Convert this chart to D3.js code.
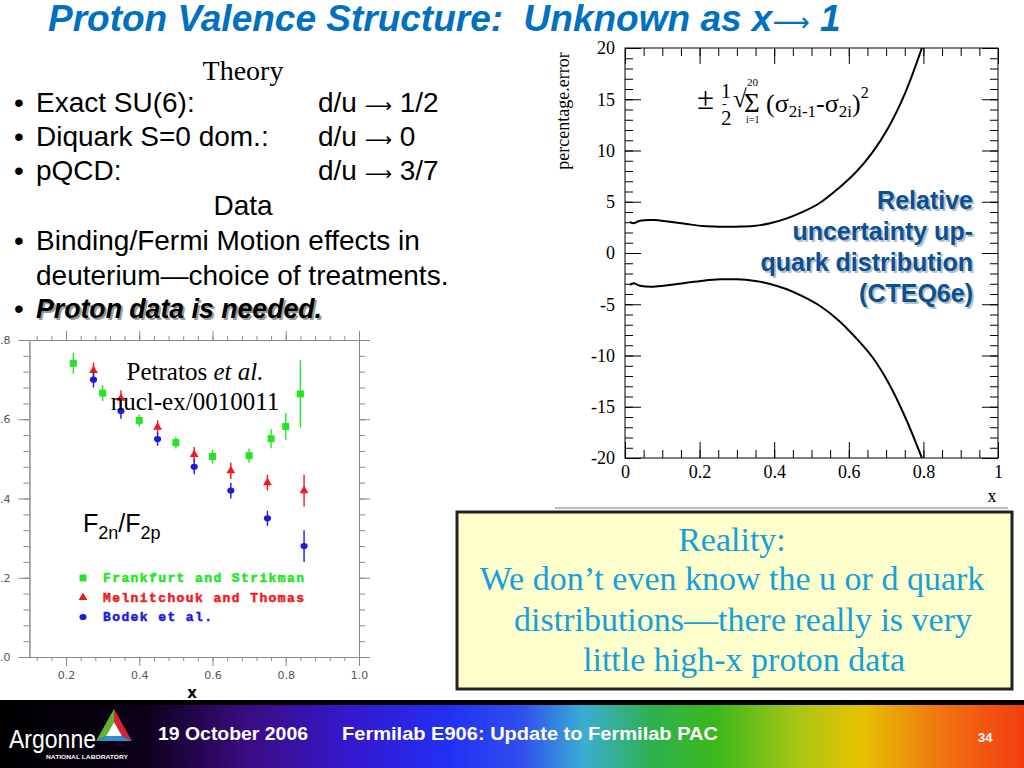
<!DOCTYPE html>
<html>
<head>
<meta charset="utf-8">
<script src="https://cdn.jsdelivr.net/npm/d3@7"></script>
<style>
  body { margin: 0; background: #fff; }
  svg { display: block; }
</style>
</head>
<body>
<div id="slide"></div>
<script>
// F2n/F2p points
var fsX = [0.22, 0.30, 0.40, 0.50, 0.60, 0.70, 0.76, 0.80, 0.84];
var fsY = [0.741, 0.666, 0.597, 0.541, 0.506, 0.508, 0.551, 0.582, 0.664];
var fsE = [0.026, 0.02, 0.015, 0.015, 0.018, 0.018, 0.024, 0.034, 0.085];
var mtX = [0.275, 0.35, 0.45, 0.55, 0.65, 0.75, 0.85];
var mtY = [0.723, 0.653, 0.58, 0.511, 0.47, 0.44, 0.42];
var mtE = [0.02, 0.02, 0.018, 0.019, 0.021, 0.02, 0.04];
var bkX = [0.275, 0.35, 0.45, 0.55, 0.65, 0.75, 0.85];
var bkY = [0.70, 0.621, 0.55, 0.48, 0.42, 0.35, 0.28];
var bkE = [0.02, 0.02, 0.017, 0.019, 0.02, 0.019, 0.04];
var legendNames = ["Frankfurt and Strikman", "Melnitchouk and Thomas", "Bodek et al."];

// CTEQ6e relative uncertainty curves (right plot)
var cx = [0.013, 0.022, 0.04, 0.076, 0.12, 0.165, 0.21, 0.255, 0.30, 0.344, 0.389, 0.434, 0.478, 0.523, 0.572, 0.617, 0.662, 0.707, 0.751, 0.796];
var upperErr = [3.05, 2.9, 3.15, 3.22, 3.05, 2.83, 2.63, 2.57, 2.57, 2.63, 2.9, 3.38, 4.03, 4.9, 6.3, 7.8, 9.74, 12.3, 15.6, 20];
var lowerErr = [-3.12, -2.96, -3.19, -3.29, -3.12, -2.9, -2.7, -2.57, -2.57, -2.7, -3.02, -3.54, -4.26, -5.17, -6.55, -8.2, -10.1, -12.7, -16, -20];

var svg = d3.select("#slide").append("svg").attr("width", 1024).attr("height", 768);
svg.append("rect").attr("width", 1024).attr("height", 768).attr("fill", "#fff");

var sans = "Liberation Sans, Arial, sans-serif";
var serif = "Liberation Serif, Times New Roman, serif";
var arrowFont = "DejaVu Sans, sans-serif";

// ---- title and bullets
var title = svg.append("text")
    .attr("x", 48).attr("y", 31)
    .attr("font-family", sans)
    .attr("font-size", 37).attr("font-weight", "bold").attr("font-style", "italic")
    .attr("fill", "#0070c0");
title.append("tspan").text("Proton Valence Structure:\u00a0 Unknown as x");
title.append("tspan").attr("font-family", arrowFont).attr("font-weight", "normal").attr("font-style", "normal")
    .attr("font-size", 26).text("\u27f6");
title.append("tspan").text(" 1");

svg.append("text").attr("x", 243).attr("y", 80).attr("text-anchor", "middle")
    .attr("font-family", serif).attr("font-size", 28).text("Theory");
svg.append("text").attr("x", 243).attr("y", 215).attr("text-anchor", "middle")
    .attr("font-family", sans).attr("font-size", 28).text("Data");

var bullets = [
  {y: 112, a: "Exact SU(6):", b: "1/2"},
  {y: 146, a: "Diquark S=0 dom.:", b: "0"},
  {y: 180, a: "pQCD:", b: "3/7"},
  {y: 250, a: "Binding/Fermi Motion effects in", b: ""},
  {y: 285, a: "deuterium\u2014choice of treatments.", b: "", nob: true}
];
bullets.forEach(function(d) {
  if (!d.nob) svg.append("text").attr("x", 14).attr("y", d.y).attr("font-family", sans).attr("font-size", 28).text("\u2022");
  svg.append("text").attr("x", 36).attr("y", d.y).attr("font-family", sans).attr("font-size", 28).text(d.a);
  if (d.b) {
    var t = svg.append("text").attr("x", 318).attr("y", d.y).attr("font-family", sans).attr("font-size", 28);
    t.append("tspan").text("d/u ");
    t.append("tspan").attr("font-family", arrowFont).attr("font-size", 19).text("\u27f6");
    t.append("tspan").text(" " + d.b);
  }
});
svg.append("text").attr("x", 14).attr("y", 318).attr("font-family", sans).attr("font-size", 28).text("\u2022");
svg.append("text").attr("x", 38).attr("y", 320)
    .attr("font-family", sans).attr("font-size", 28).attr("font-weight", "bold").attr("font-style", "italic")
    .attr("textLength", 286).attr("lengthAdjust", "spacingAndGlyphs")
    .attr("fill", "#9a9a9a").text("Proton data is needed.");
svg.append("text").attr("x", 36).attr("y", 318)
    .attr("font-family", sans).attr("font-size", 28).attr("font-weight", "bold").attr("font-style", "italic")
    .attr("textLength", 286).attr("lengthAdjust", "spacingAndGlyphs")
    .attr("fill", "#000").text("Proton data is needed.");

// ---- left plot: F2n/F2p
var lx = d3.scaleLinear().domain([0.1, 1.0]).range([29.4, 359]);
var ly = d3.scaleLinear().domain([0, 0.8]).range([657, 340]);
var left = svg.append("g");
var gray = "#8a8a8a";

var xMinor = d3.range(23).map(function(i) { return +(0.12 + i * 0.04).toFixed(2); });
var xMajor = [0.2, 0.4, 0.6, 0.8, 1.0];
var yMinor = d3.range(21).map(function(i) { return +(i * 0.04).toFixed(2); });
var yMajor = [0, 0.2, 0.4, 0.6, 0.8];

function styleAxis(g) {
  g.selectAll("path, line").attr("stroke", gray);
  g.selectAll("text").attr("fill", "#555").attr("font-family", "DejaVu Sans, sans-serif").attr("font-size", 11);
}
left.append("g").attr("transform", "translate(0,657)")
    .call(d3.axisBottom(lx).tickValues(xMinor).tickSize(4).tickSizeOuter(0).tickFormat("")).call(styleAxis);
left.append("g").attr("transform", "translate(0,657)")
    .call(d3.axisBottom(lx).tickValues(xMajor).tickSize(9).tickSizeOuter(0).tickPadding(5).tickFormat(d3.format(".1f"))).call(styleAxis);
left.append("g").attr("transform", "translate(0,340)")
    .call(d3.axisTop(lx).tickValues(xMinor).tickSize(4).tickSizeOuter(0).tickFormat("")).call(styleAxis);
left.append("g").attr("transform", "translate(0,340)")
    .call(d3.axisTop(lx).tickValues(xMajor).tickSize(9).tickSizeOuter(0).tickFormat("")).call(styleAxis);
left.append("g").attr("transform", "translate(29.4,0)")
    .call(d3.axisLeft(ly).tickValues(yMinor).tickSize(6).tickSizeOuter(0).tickFormat("")).call(styleAxis);
left.append("g").attr("transform", "translate(29.4,0)")
    .call(d3.axisLeft(ly).tickValues(yMajor).tickSize(11).tickSizeOuter(0).tickPadding(8).tickFormat(d3.format(".1f"))).call(styleAxis);
left.append("g").attr("transform", "translate(359,0)")
    .call(d3.axisRight(ly).tickValues(yMinor).tickSize(6).tickSizeOuter(0).tickFormat("")).call(styleAxis);
left.append("g").attr("transform", "translate(359,0)")
    .call(d3.axisRight(ly).tickValues(yMajor).tickSize(11).tickSizeOuter(0).tickFormat("")).call(styleAxis);

left.append("text").attr("x", 192).attr("y", 698).attr("text-anchor", "middle")
    .attr("font-family", "DejaVu Sans, sans-serif").attr("font-weight", "bold").attr("font-size", 15).text("x");

var green = "#22e622", red = "#ee1c1c", blue = "#1c1cdd";
var sets = [
  {x: fsX, y: fsY, e: fsE, c: green, sym: "square"},
  {x: mtX, y: mtY, e: mtE, c: red, sym: "triangle"},
  {x: bkX, y: bkY, e: bkE, c: blue, sym: "circle"}
];

function marker(g, sym, c) {
  if (sym === "square") g.append("rect").attr("x", -3.5).attr("y", -3.5).attr("width", 7).attr("height", 7).attr("fill", c);
  else if (sym === "triangle") g.append("path").attr("d", d3.symbol(d3.symbolTriangle, 34)()).attr("fill", c);
  else g.append("ellipse").attr("rx", 3.6).attr("ry", 3.1).attr("fill", c);
}

sets.forEach(function(s) {
  s.x.forEach(function(xv, i) {
    left.append("line")
        .attr("x1", lx(xv)).attr("x2", lx(xv))
        .attr("y1", ly(s.y[i] - s.e[i])).attr("y2", ly(s.y[i] + s.e[i]))
        .attr("stroke", s.c).attr("stroke-width", 1.4);
    var m = left.append("g").attr("transform", "translate(" + lx(xv) + "," + ly(s.y[i]) + ")");
    marker(m, s.sym, s.c);
  });
});

// legend
legendNames.forEach(function(name, i) {
  var yy = 578 + i * 19.5;
  var m = left.append("g").attr("transform", "translate(83," + yy + ")");
  marker(m, sets[i].sym, sets[i].c);
  left.append("text").attr("x", 103).attr("y", yy + 4)
      .attr("font-family", "Liberation Mono, Courier New, monospace").attr("font-weight", "bold")
      .attr("font-size", 13).attr("letter-spacing", 1.4).attr("fill", sets[i].c)
      .attr("stroke", sets[i].c).attr("stroke-width", 0.5).text(name);
});

// F2n/F2p label
var fl = left.append("text").attr("x", 83).attr("y", 532).attr("font-family", sans).attr("font-size", 25);
fl.append("tspan").text("F");
fl.append("tspan").attr("font-size", 18).attr("dy", 7).text("2n");
fl.append("tspan").attr("dy", -7).text("/F");
fl.append("tspan").attr("font-size", 18).attr("dy", 7).text("2p");

var pt = left.append("text").attr("x", 195).attr("y", 380).attr("text-anchor", "middle")
    .attr("font-family", serif).attr("font-size", 25);
pt.append("tspan").text("Petratos ");
pt.append("tspan").attr("font-style", "italic").text("et al.");
left.append("text").attr("x", 195).attr("y", 410).attr("text-anchor", "middle")
    .attr("font-family", serif).attr("font-size", 25).text("nucl-ex/0010011");

// ---- right plot: CTEQ6e uncertainty
var rx = d3.scaleLinear().domain([0, 1]).range([625, 998]);
var ry = d3.scaleLinear().domain([-20, 20]).range([458, 48]);
var right = svg.append("g");

function styleR(g) {
  g.select(".domain").remove();
  g.selectAll("line").attr("stroke", "#000");
  g.selectAll("text").attr("fill", "#000").attr("font-family", serif).attr("font-size", 18);
}
var rxMinor = d3.range(21).map(function(i) { return +(i * 0.05).toFixed(2); });
var rxMajor = [0, 0.2, 0.4, 0.6, 0.8, 1];
var ryMinor = d3.range(-20, 21, 1);
var ryMajor = d3.range(-20, 21, 5);

right.append("g").attr("transform", "translate(0,458)")
    .call(d3.axisBottom(rx).tickValues(rxMinor).tickSize(-8).tickFormat("")).call(styleR);
right.append("g").attr("transform", "translate(0,458)")
    .call(d3.axisBottom(rx).tickValues(rxMajor).tickSize(-16).tickPadding(7).tickFormat(function(d) { return String(d); })).call(styleR);
right.append("g").attr("transform", "translate(0,48)")
    .call(d3.axisTop(rx).tickValues(rxMinor).tickSize(-8).tickFormat("")).call(styleR);
right.append("g").attr("transform", "translate(0,48)")
    .call(d3.axisTop(rx).tickValues(rxMajor).tickSize(-16).tickFormat("")).call(styleR);
right.append("g").attr("transform", "translate(625,0)")
    .call(d3.axisLeft(ry).tickValues(ryMinor).tickSize(-8).tickFormat("")).call(styleR);
right.append("g").attr("transform", "translate(625,0)")
    .call(d3.axisLeft(ry).tickValues(ryMajor).tickSize(-16).tickPadding(10).tickFormat(function(d) { return String(d); })).call(styleR);
right.append("g").attr("transform", "translate(998,0)")
    .call(d3.axisRight(ry).tickValues(ryMinor).tickSize(-8).tickFormat("")).call(styleR);
right.append("g").attr("transform", "translate(998,0)")
    .call(d3.axisRight(ry).tickValues(ryMajor).tickSize(-16).tickFormat("")).call(styleR);

right.append("rect").attr("x", 625).attr("y", 48).attr("width", 373).attr("height", 410)
    .attr("fill", "none").attr("stroke", "#000").attr("stroke-width", 1);

right.append("clipPath").attr("id", "rclip").append("rect")
    .attr("x", 625).attr("y", 48).attr("width", 373).attr("height", 410);

var line = d3.line().x(function(d) { return rx(d[0]); }).y(function(d) { return ry(d[1]); })
    .curve(d3.curveCatmullRom);
[upperErr, lowerErr].forEach(function(arr) {
  right.append("path").attr("clip-path", "url(#rclip)")
      .attr("d", line(cx.map(function(v, i) { return [v, arr[i]]; })))
      .attr("fill", "none").attr("stroke", "#000").attr("stroke-width", 2);
});

right.append("text").attr("transform", "translate(569,111) rotate(-90)").attr("text-anchor", "middle")
    .attr("font-family", serif).attr("font-size", 18).text("percentage.error");
right.append("text").attr("x", 992).attr("y", 502).attr("text-anchor", "middle")
    .attr("font-family", serif).attr("font-size", 18).text("x");
right.append("line").attr("x1", 555).attr("x2", 1008).attr("y1", 508).attr("y2", 508)
    .attr("stroke", "#777").attr("stroke-width", 1);

// formula
function ftext(x, y, size, str) {
  return right.append("text").attr("x", x).attr("y", y).attr("font-family", serif).attr("font-size", size).text(str);
}
ftext(697, 109, 31, "\u00b1");
ftext(721, 98, 20, "1");
ftext(722, 108, 14, "-");
ftext(721, 125, 21, "2");
ftext(733, 107, 25, "\u221a");
ftext(747, 86, 11, "20");
ftext(744, 112, 27, "\u03a3");
ftext(746, 123, 10, "i=1");
var fm = right.append("text").attr("x", 766).attr("y", 112).attr("font-family", serif).attr("font-size", 26);
fm.append("tspan").text("(\u03c3");
fm.append("tspan").attr("font-size", 17).attr("dy", 5).text("2i-1");
fm.append("tspan").attr("dy", -5).text("-\u03c3");
fm.append("tspan").attr("font-size", 17).attr("dy", 5).text("2i");
fm.append("tspan").attr("dy", -5).text(")");
fm.append("tspan").attr("font-size", 16).attr("dy", -14).text("2");

// blue annotation
var note = ["Relative", "uncertainty up-", "quark distribution", "(CTEQ6e)"];
note.forEach(function(t, i) {
  var yy = 209 + i * 31;
  right.append("text").attr("x", 975).attr("y", yy + 2).attr("text-anchor", "end")
      .attr("font-family", sans).attr("font-weight", "bold").attr("font-size", 25)
      .attr("fill", "#9aa3ad").attr("opacity", 0.7).text(t);
  right.append("text").attr("x", 973).attr("y", yy).attr("text-anchor", "end")
      .attr("font-family", sans).attr("font-weight", "bold").attr("font-size", 25)
      .attr("fill", "#0b4f94").text(t);
});

// ---- reality box
svg.append("rect").attr("x", 457).attr("y", 512).attr("width", 555).attr("height", 177)
    .attr("fill", "#ffffcc").attr("stroke", "#222").attr("stroke-width", 3);
var reality = [
  {t: "Reality:", x: 732, y: 551},
  {t: "We don\u2019t even know the u or d quark", x: 732, y: 590},
  {t: "distributions\u2014there really is very", x: 743, y: 631},
  {t: "little high-x proton data", x: 744, y: 671}
];
reality.forEach(function(d) {
  svg.append("text").attr("x", d.x).attr("y", d.y).attr("text-anchor", "middle")
      .attr("font-family", serif).attr("font-size", 34).attr("fill", "#14a0dc").text(d.t);
});

// ---- footer band
var defs = svg.append("defs");
var grad = defs.append("linearGradient").attr("id", "band").attr("x1", 0).attr("x2", 1).attr("y1", 0).attr("y2", 0);
[[0, "#000000"], [0.14, "#0c0018"], [0.24, "#3a0c80"], [0.34, "#3418cc"], [0.44, "#2230f4"], [0.51, "#3050ee"],
 [0.57, "#3aaed2"], [0.635, "#2eb050"], [0.70, "#3cb81a"], [0.78, "#aac614"], [0.84, "#e6c200"],
 [0.92, "#f07412"], [1, "#f23c10"]].forEach(function(s) {
  grad.append("stop").attr("offset", s[0]).attr("stop-color", s[1]);
});
svg.append("rect").attr("x", 0).attr("y", 700).attr("width", 1024).attr("height", 68).attr("fill", "#000");
svg.append("rect").attr("x", 0).attr("y", 705).attr("width", 1024).attr("height", 63).attr("fill", "url(#band)");

// Argonne logo
svg.append("path").attr("d", "M114,709 L96,741 L106,736 L114,722 Z").attr("fill", "#5fb52f");
svg.append("path").attr("d", "M114,709 L114,722 L122,736 L132,741 Z").attr("fill", "#d3262e");
svg.append("path").attr("d", "M96,741 L132,741 L122,736 L106,736 Z").attr("fill", "#2f8fd0");
svg.append("path").attr("d", "M114,722 L106,736 L122,736 Z").attr("fill", "#fff");
svg.append("text").attr("x", 9).attr("y", 748).attr("font-family", sans).attr("font-size", 26)
    .attr("fill", "#fff").attr("textLength", 87).attr("lengthAdjust", "spacingAndGlyphs").text("Argonne");
svg.append("text").attr("x", 46).attr("y", 759).attr("font-family", sans).attr("font-size", 6).attr("font-weight", "bold")
    .attr("fill", "#fff").attr("textLength", 82).attr("lengthAdjust", "spacingAndGlyphs").text("NATIONAL LABORATORY");

svg.append("text").attr("x", 158).attr("y", 740).attr("font-family", sans).attr("font-size", 19).attr("font-weight", "bold")
    .attr("fill", "#fff").attr("textLength", 150).attr("lengthAdjust", "spacingAndGlyphs").text("19 October 2006");
svg.append("text").attr("x", 342).attr("y", 740).attr("font-family", sans).attr("font-size", 19).attr("font-weight", "bold")
    .attr("fill", "#fff").attr("textLength", 376).attr("lengthAdjust", "spacingAndGlyphs").text("Fermilab E906:  Update to Fermilab PAC");
svg.append("text").attr("x", 978).attr("y", 742).attr("font-family", sans).attr("font-size", 13).attr("font-weight", "bold")
    .attr("fill", "#fff").text("34");
</script>
</body>
</html>
